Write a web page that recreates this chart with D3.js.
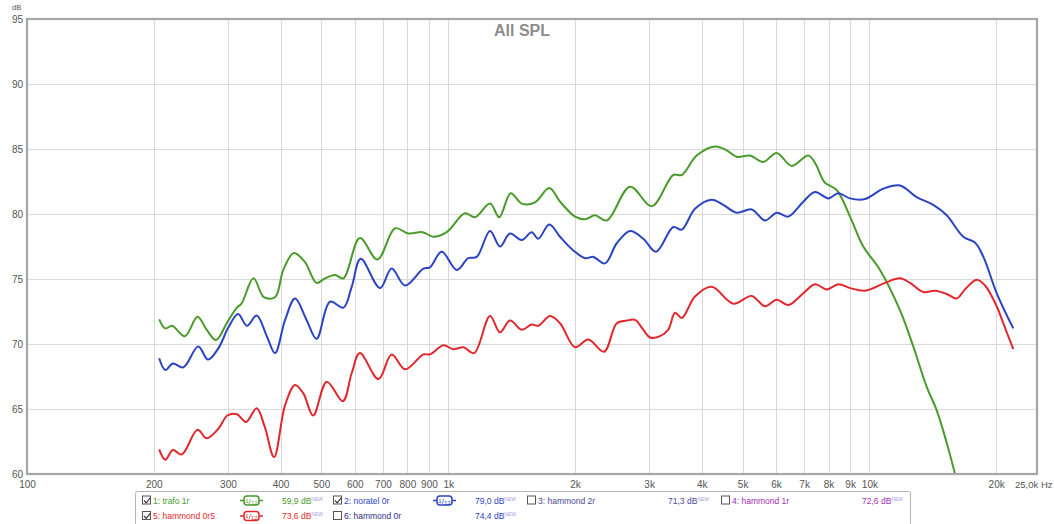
<!DOCTYPE html>
<html>
<head>
<meta charset="utf-8">
<script src="https://cdn.jsdelivr.net/npm/d3@7"></script>
<style>
  html, body { margin: 0; padding: 0; background: #fff; }
  svg { display: block; font-family: "Liberation Sans", Arial, sans-serif; }
</style>
</head>
<body>
<svg id="chart" width="1054" height="524"></svg>
<script>
// ---- axis ticks ----
const xTickValues = [100, 200, 300, 400, 500, 600, 700, 800, 900, 1000,
  2000, 3000, 4000, 5000, 6000, 7000, 8000, 9000, 10000, 20000];
const xTickLabels = ["100", "200", "300", "400", "500", "600", "700", "800", "900", "1k",
  "2k", "3k", "4k", "5k", "6k", "7k", "8k", "9k", "10k", "20k"];
const yTickValues = [60, 65, 70, 75, 80, 85, 90, 95];

// ---- measurement traces (Hz, dB) ----
const trafoFreq = [206, 213, 221, 237, 254, 267, 281, 298, 315, 323, 345, 365, 388, 406, 430, 457, 487, 510,
  539, 564, 617, 679, 748, 804, 870, 922, 992, 1096, 1158, 1257, 1322, 1407, 1495, 1607, 1738, 1843, 2000,
  2113, 2231, 2379, 2703, 3042, 3423, 3585, 3890, 4300, 4584, 4840, 5206, 5598, 6024, 6538, 7160, 7470,
  7633, 7845, 8363, 8996, 9672, 10597, 11820, 12715, 13680, 14450, 15260, 15970];
const trafoDb = [71.9, 71.2, 71.4, 70.6, 72.1, 71.1, 70.3, 71.6, 72.8, 73.1, 75.05, 73.6, 73.6, 75.7, 77.0,
  76.3, 74.7, 75.05, 75.3, 75.05, 78.15, 76.5, 78.9, 78.5, 78.6, 78.25, 78.6, 80.05, 79.75, 80.8, 79.75,
  81.6, 80.8, 80.9, 82.0, 80.95, 79.8, 79.6, 79.9, 79.5, 82.1, 80.6, 83.0, 83.0, 84.5, 85.2, 84.9, 84.4,
  84.5, 84.0, 84.7, 83.7, 84.5, 83.8, 83.1, 82.4, 81.85, 79.8, 77.5, 75.7, 72.6, 69.8, 66.7, 64.9, 62.4, 60.0];

const noratelFreq = [206, 213, 222, 235, 255, 269, 285, 301, 317, 333, 351, 371, 388, 410, 433, 461, 487, 524,
  564, 590, 620, 689, 734, 790, 873, 905, 965, 1048, 1116, 1169, 1257, 1327, 1402, 1495, 1578, 1636, 1738,
  1843, 1982, 2113, 2211, 2357, 2513, 2703, 2905, 3115, 3423, 3585, 3854, 4222, 4500, 4840, 5255, 5652,
  6024, 6419, 6968, 7428, 7990, 8437, 8996, 9764, 10790, 11820, 12950, 14180, 15260, 16710, 17810, 18650,
  20060, 21960];
const noratelDb = [68.9, 68.0, 68.5, 68.2, 69.8, 68.8, 69.7, 71.3, 72.3, 71.4, 72.2, 70.6, 69.3, 71.85, 73.5,
  71.85, 70.4, 73.25, 72.8, 74.4, 76.55, 74.3, 75.8, 74.5, 75.8, 75.9, 77.1, 75.7, 76.6, 76.7, 78.7, 77.5,
  78.5, 78.0, 78.6, 78.1, 79.2, 78.25, 77.2, 76.6, 76.7, 76.2, 77.75, 78.7, 78.1, 77.1, 79.0, 78.8, 80.4,
  81.1, 80.7, 80.1, 80.35, 79.5, 80.1, 79.8, 80.95, 81.7, 81.2, 81.6, 81.2, 81.15, 81.95, 82.2, 81.3,
  80.7, 79.9, 78.25, 77.8, 76.7, 73.9, 71.2];

const hammondFreq = [206, 213, 222, 233, 254, 267, 285, 299, 315, 331, 351, 367, 386, 410, 433, 453, 478, 515,
  562, 590, 617, 683, 734, 790, 873, 905, 974, 1028, 1086, 1152, 1257, 1327, 1402, 1495, 1578, 1636, 1745,
  1843, 2000, 2151, 2344, 2513, 2653, 2777, 2905, 3015, 3184, 3331, 3456, 3585, 3854, 4222, 4753, 5255,
  5652, 6024, 6419, 6968, 7428, 7918, 8437, 8996, 9764, 10890, 11820, 12485, 13430, 14310, 15260, 16120,
  16870, 17980, 18820, 20060, 20790, 21960];
const hammondDb = [61.9, 61.1, 61.85, 61.5, 63.4, 62.75, 63.5, 64.5, 64.6, 64.0, 65.05, 63.6, 61.3, 65.3,
  66.85, 66.2, 64.5, 67.1, 65.6, 67.75, 69.3, 67.3, 69.2, 68.05, 69.2, 69.2, 69.9, 69.6, 69.75, 69.3,
  72.15, 70.9, 71.8, 71.1, 71.5, 71.4, 72.15, 71.6, 69.75, 70.35, 69.4, 71.6, 71.8, 71.85, 71.1, 70.5,
  70.6, 71.1, 72.4, 72.0, 73.65, 74.4, 73.1, 73.7, 72.9, 73.4, 73.0, 73.9, 74.6, 74.2, 74.6, 74.3, 74.1,
  74.7, 75.05, 74.7, 74.0, 74.1, 73.85, 73.5, 74.2, 74.95, 74.5, 72.9, 71.6, 69.6];

// ---- legend entries ----
const legendNames = ["1: trafo 1r", "2: noratel 0r", "3: hammond 2r", "4: hammond 1r",
  "5: hammond 0r5", "6: hammond 0r"];
const legendLevels = ["59,9 dB", "79,0 dB", "71,3 dB", "72,6 dB", "73,6 dB", "74,4 dB"];
const legendShown = [true, true, false, false, true, false];
const legendColors = ["#4a9a2c", "#2b44c0", "#4a4a94", "#a030b0", "#e0282e", "#303088"];
const legendLevelColors = ["#4a9a2c", "#2b44c0", "#4a4a94", "#a030b0", "#e0282e", "#2b44c0"];

const svg = d3.select("#chart");
const plotLeft = 27, plotRight = 1037, plotTop = 19, plotBottom = 474;

const x = d3.scaleLog().domain([100, 25000]).range([plotLeft, plotRight]);
const y = d3.scaleLinear().domain([60, 95]).range([plotBottom, plotTop]);

// grid
const grid = svg.append("g").attr("stroke", "#d9d9d9").attr("stroke-width", 1);
grid.selectAll("line.v").data(xTickValues.slice(1)).join("line")
  .attr("x1", d => Math.round(x(d)) + 0.5).attr("x2", d => Math.round(x(d)) + 0.5)
  .attr("y1", plotTop).attr("y2", plotBottom);
grid.selectAll("line.h").data(yTickValues.slice(1, -1)).join("line")
  .attr("x1", plotLeft).attr("x2", plotRight)
  .attr("y1", d => Math.round(y(d)) + 0.5).attr("y2", d => Math.round(y(d)) + 0.5);

// axes
const xAxis = d3.axisBottom(x).tickValues(xTickValues)
  .tickFormat((d, i) => xTickLabels[i]).tickSize(0).tickPadding(7);
const gx = svg.append("g").attr("transform", `translate(0,${plotBottom})`).call(xAxis);
gx.select(".domain").remove();
gx.selectAll("text").attr("fill", "#555").attr("font-size", 10)
  .attr("font-family", "'Liberation Sans', Arial, sans-serif");

const yAxis = d3.axisLeft(y).tickValues(yTickValues).tickSize(0).tickPadding(4);
const gy = svg.append("g").attr("transform", `translate(${plotLeft},0)`).call(yAxis);
gy.select(".domain").remove();
gy.selectAll("text").attr("fill", "#555").attr("font-size", 10)
  .attr("font-family", "'Liberation Sans', Arial, sans-serif");

svg.append("text").attr("x", 12).attr("y", 10).attr("font-size", 7.5).attr("fill", "#555").text("dB");
svg.append("text").attr("x", 1015).attr("y", 488).attr("font-size", 9.5).attr("fill", "#555").text("25,0k Hz");

// traces
svg.append("clipPath").attr("id", "plotClip").append("rect")
  .attr("x", plotLeft).attr("y", plotTop).attr("width", plotRight - plotLeft).attr("height", plotBottom - plotTop);

const line = d3.line().x(d => x(d[0])).y(d => y(d[1])).curve(d3.curveCatmullRom.alpha(0.5));
const traces = [
  { freq: trafoFreq, db: trafoDb, color: legendColors[0] },
  { freq: noratelFreq, db: noratelDb, color: legendColors[1] },
  { freq: hammondFreq, db: hammondDb, color: legendColors[4] }
];
const plot = svg.append("g").attr("clip-path", "url(#plotClip)");
traces.forEach(t => {
  plot.append("path")
    .datum(t.freq.map((f, i) => [f, t.db[i]]))
    .attr("fill", "none").attr("stroke", t.color).attr("stroke-width", 2)
    .attr("stroke-linejoin", "round").attr("d", line);
});

// frame
svg.append("rect").attr("x", plotLeft).attr("y", plotTop)
  .attr("width", plotRight - plotLeft).attr("height", plotBottom - plotTop)
  .attr("fill", "none").attr("stroke", "#a6a6a6").attr("stroke-width", 2.2);

// title
svg.append("text").attr("x", 522).attr("y", 36).attr("text-anchor", "middle")
  .attr("font-size", 16).attr("font-weight", "bold").attr("fill", "#8c8c8c").text("All SPL");

// legend
const lg = svg.append("g");
lg.append("rect").attr("x", 135.5).attr("y", 491.5).attr("width", 775).attr("height", 34)
  .attr("rx", 2).attr("fill", "#fff").attr("stroke", "#b4b4b4");

const colX = [142, 333, 527, 721];
const badgeX = [240, 433];
const levelX = [282, 475, 668, 862];
const rowY = [500.5, 516];
const slots = [[0, 0], [1, 0], [2, 0], [3, 0], [0, 1], [1, 1]];

slots.forEach(([c, r], i) => {
  const cy = rowY[r];
  const g = lg.append("g");
  g.append("rect").attr("x", colX[c] + 0.5).attr("y", cy - 4.5).attr("width", 8).attr("height", 8)
    .attr("fill", "#fff").attr("stroke", "#555").attr("stroke-width", 1);
  if (legendShown[i]) {
    g.append("path").attr("d", `M${colX[c] + 2},${cy} l2.2,2.3 l4,-5`)
      .attr("fill", "none").attr("stroke", "#333").attr("stroke-width", 1.1);
  }
  g.append("text").attr("x", colX[c] + 11).attr("y", cy + 3).attr("font-size", 8.5)
    .attr("fill", legendColors[i]).text(legendNames[i]);
  if (legendShown[i]) {
    const bx = badgeX[c];
    g.append("line").attr("x1", bx).attr("x2", bx + 23).attr("y1", cy).attr("y2", cy)
      .attr("stroke", legendColors[i]).attr("stroke-width", 1.5);
    g.append("rect").attr("x", bx + 4).attr("y", cy - 4.5).attr("width", 15).attr("height", 9)
      .attr("rx", 3).attr("fill", "#fff").attr("stroke", legendColors[i]).attr("stroke-width", 1.5);
    const bt = g.append("text").attr("x", bx + 11.5).attr("y", cy + 3).attr("text-anchor", "middle")
      .attr("fill", legendColors[i]).attr("font-size", 7);
    bt.append("tspan").attr("font-size", 6).attr("dy", -1).text("1");
    bt.append("tspan").attr("font-size", 8).attr("dy", 1).text("/");
    bt.append("tspan").attr("font-size", 6).attr("dy", 1).text("12");
  }
  const lv = g.append("text").attr("x", levelX[c]).attr("y", cy + 3).attr("font-size", 8.5)
    .attr("fill", legendLevelColors[i]);
  lv.append("tspan").text(legendLevels[i]);
  lv.append("tspan").attr("font-size", 5).attr("dy", -3).attr("fill", "#a8a0e0").text("NEW");
});
</script>
</body>
</html>
